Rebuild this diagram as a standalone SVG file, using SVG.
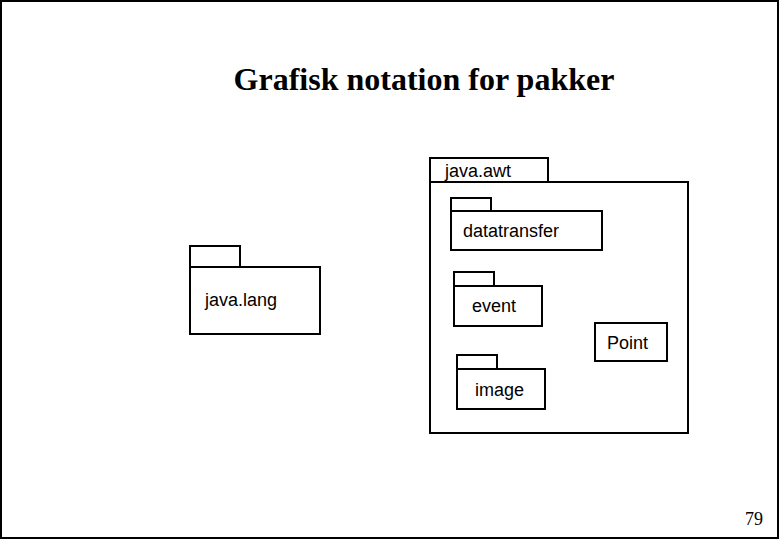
<svg xmlns="http://www.w3.org/2000/svg" width="780" height="540" viewBox="0 0 780 540">
<style>
.b{fill:#fff;stroke:#000;stroke-width:2}
.t{font-family:"Liberation Sans",Arial,sans-serif;font-size:18px;fill:#000}
</style>
<rect x="0" y="0" width="780" height="540" fill="#fff"/>
<rect x="1" y="1" width="777" height="537" fill="none" stroke="#000" stroke-width="2"/>
<text x="424" y="90" text-anchor="middle" font-family="'Liberation Serif','Times New Roman',serif" font-weight="bold" font-size="32">Grafisk notation for pakker</text>
<g id="java-lang">
<rect class="b" x="190" y="246" width="50" height="21"/>
<rect class="b" x="190" y="267" width="130" height="67"/>
<text class="t" x="205" y="306">java.lang</text>
</g>
<g id="java-awt">
<rect class="b" x="430" y="158" width="118" height="24"/>
<rect class="b" x="430" y="182" width="258" height="251"/>
<text class="t" x="445" y="177">java.awt</text>
</g>
<g id="datatransfer">
<rect class="b" x="451" y="198" width="40" height="13"/>
<rect class="b" x="451" y="211" width="151" height="39"/>
<text class="t" x="463" y="237">datatransfer</text>
</g>
<g id="event">
<rect class="b" x="454" y="272" width="40" height="14"/>
<rect class="b" x="454" y="286" width="88" height="40"/>
<text class="t" x="472" y="312">event</text>
</g>
<g id="image">
<rect class="b" x="457" y="355" width="40" height="14"/>
<rect class="b" x="457" y="369" width="88" height="40"/>
<text class="t" x="475" y="396">image</text>
</g>
<g id="Point">
<rect class="b" x="595" y="323" width="72" height="38"/>
<text class="t" x="607" y="349">Point</text>
</g>
<g id="connectors"></g>
<text x="763" y="525" text-anchor="end" font-family="'Liberation Serif','Times New Roman',serif" font-size="18">79</text>
</svg>
